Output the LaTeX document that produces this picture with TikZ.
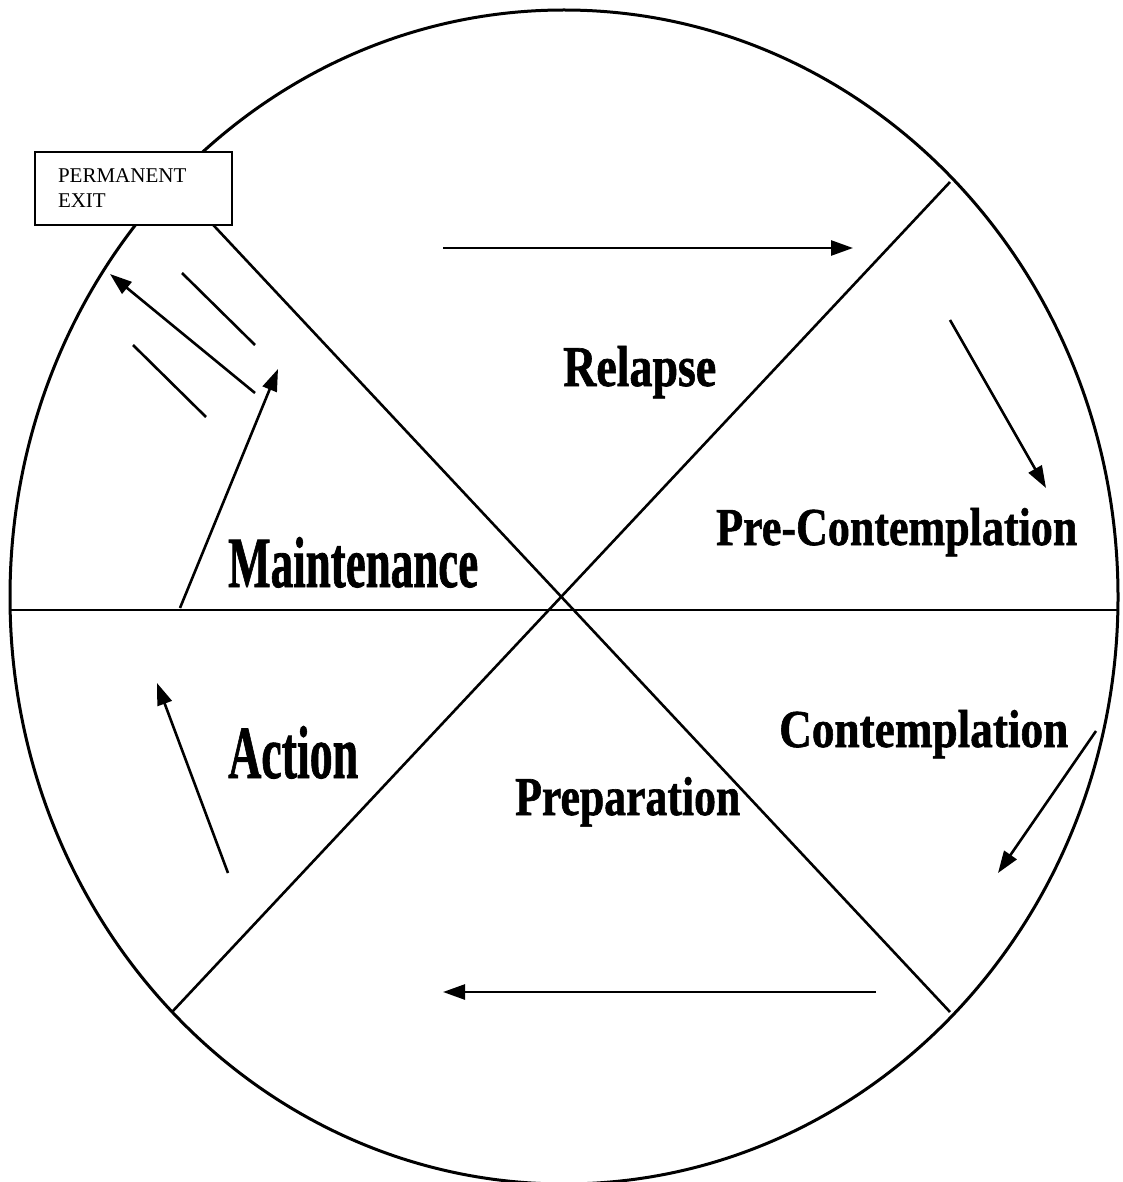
\documentclass[tikz,border=0pt]{standalone}
\usepackage{fontspec}
\setmainfont{Liberation Serif}
\newfontfamily\stagefont[FakeBold=1.2]{Liberation Serif Bold}
\usetikzlibrary{arrows.meta}
\newcommand\stagelabel[3]{\resizebox{#2pt}{#3pt}{\stagefont #1}}
\begin{document}
\begin{tikzpicture}[x=1pt,y=-1pt,
  rim/.style={line width=3pt},
  divider/.style={line width=2.6pt},
  arr/.style={-{Triangle[length=22pt,width=15pt]}, line width=2.6pt},
  plain/.style={line width=2.6pt},
  stage/.style={anchor=base west, inner sep=0pt},
  exitbox/.style={draw, fill=white, line width=2.2pt, minimum width=197pt,
    minimum height=73pt, text width=151pt, inner xsep=23pt, inner ysep=0pt,
    align=left, font=\fontsize{21}{25}\selectfont}]
\useasboundingbox (0,0) rectangle (1122,1182);
% circle and dividers
\draw[rim] (564,597) ellipse [x radius=554, y radius=587];
\coordinate (hl) at (10,610);
\coordinate (hr) at (1118,610);
\coordinate (d1a) at (173,182);
\coordinate (d1b) at (950,1012);
\coordinate (d2a) at (950,182);
\coordinate (d2b) at (172,1012);
\draw[divider] (hl) -- (hr);
\draw[divider] (d1a) -- (d1b);
\draw[divider] (d2a) -- (d2b);
% permanent exit box
\node[exitbox] (exit) at (133.5,188.5) {PERMANENT\\EXIT};
% stage labels
\node[stage] (relapse) at (563,386) {\stagelabel{Relapse}{153}{40}};
\node[stage] (precon) at (716,545) {\stagelabel{Pre-Contemplation}{361}{37}};
\node[stage] (maint) at (228,587) {\stagelabel{Maintenance}{250}{50}};
\node[stage] (contem) at (779,747) {\stagelabel{Contemplation}{289}{37}};
\node[stage] (action) at (228,778) {\stagelabel{Action}{130}{52}};
\node[stage] (prep) at (515,815) {\stagelabel{Preparation}{225}{38}};
% cycle arrows
\draw[arr] (443,248) -- (853,248);
\draw[arr] (950,320) -- (1046,488);
\draw[arr] (1096,731) -- (998,873);
\draw[arr] (876,992) -- (443,992);
\draw[arr] (228,873) -- (157,683);
\draw[arr] (180,608) -- (278,369);
\draw[arr] (255,393) -- (110,274);
% plain strokes
\draw[plain] (182,273) -- (255,345);
\draw[plain] (133,345) -- (206,417);
\end{tikzpicture}
\end{document}
